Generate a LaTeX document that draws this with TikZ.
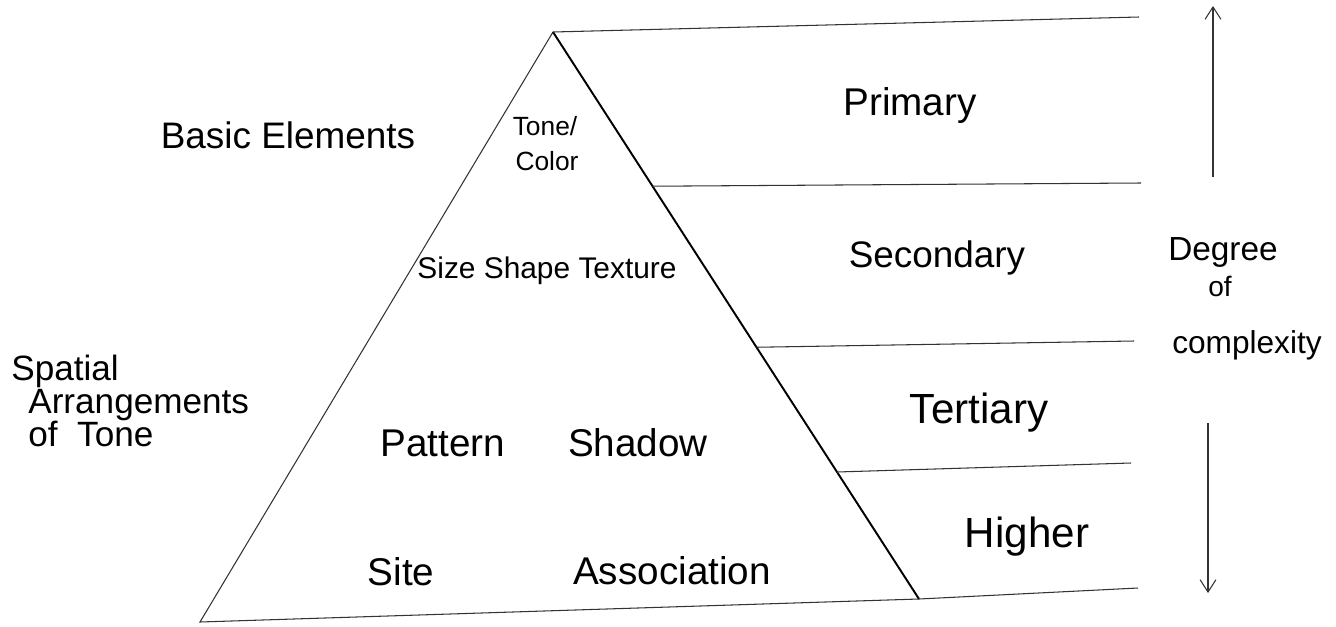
\documentclass[tikz,border=0pt]{standalone}
\usepackage{fontspec}
\setmainfont{Liberation Sans}
\usetikzlibrary{positioning, arrows.meta, calc}

\newcommand{\fs}[1]{\fontsize{#1}{#1}\selectfont}

\begin{document}
\begin{tikzpicture}[
  x=0.02cm, y=-0.02cm,
  edge/.style={line width=0.6pt, black!80},
  side/.style={line width=1.1pt},
  label/.style={anchor=base, inner sep=0pt},
  leftlabel/.style={anchor=base west, inner sep=0pt, font=\fs{20}}
]
  \useasboundingbox (0,0) rectangle (1336,626);

  % Pyramid corners
  \coordinate (apex) at (553,32);
  \coordinate (bl) at (200,622);
  \coordinate (br) at (919,599);

  % Points on the right side
  \coordinate (s1) at ($(apex)!0.272!(br)$);
  \coordinate (s2) at ($(apex)!0.556!(br)$);
  \coordinate (s3) at ($(apex)!0.776!(br)$);

  % Free ends of the level lines
  \coordinate (e0) at (1139,17);
  \coordinate (e1) at (1141,183);
  \coordinate (e2) at (1134,341);
  \coordinate (e3) at (1131,463);
  \coordinate (e4) at (1138,588);

  % Pyramid
  \draw[edge] (apex) -- (bl) -- (br);
  \draw[side] (apex) -- (br);

  % Level lines
  \draw[edge] (apex) -- (e0);
  \draw[edge] (s1) -- (e1);
  \draw[edge] (s2) -- (e2);
  \draw[edge] (s3) -- (e3);
  \draw[edge] (br) -- (e4);

  % Degree of complexity arrows
  \coordinate (upa) at (1213,177);
  \coordinate (upb) at (1213,6);
  \coordinate (dna) at (1208,423);
  \coordinate (dnb) at (1208,593);
  \draw[edge, -{Straight Barb[length=7pt, width=9pt]}] (upa) -- (upb);
  \draw[edge, -{Straight Barb[length=7pt, width=9pt]}] (dna) -- (dnb);
  \node[label, font=\fs{19}] (degree) at (1223,260) {Degree};
  \node[label, font=\fs{16}] (of) at (1220,296) {of};
  \node[label, font=\fs{18}] (complexity) at (1247,353) {complexity};

  % Labels left
  \node[label, font=\fs{21}] (basic) at (288,148) {Basic Elements};
  \node[leftlabel] (spatial) at (11,380) {Spatial};
  \node[leftlabel] (arrange) at (28,413) {Arrangements};
  \node[leftlabel] (oftone) at (28,446) {of \ Tone};

  % Labels inside the pyramid
  \node[label, font=\fs{15}] (tone) at (545,135) {Tone/};
  \node[label, font=\fs{15}] (color) at (547,170) {Color};
  \node[label, font=\fs{17}] (sst) at (547,278) {Size Shape Texture};
  \node[label, font=\fs{22}] (pattern) at (443,456) {Pattern};
  \node[label, font=\fs{22}] (shadow) at (638,456) {Shadow};
  \node[label, font=\fs{22}] (site) at (401,585) {Site};
  \node[label, font=\fs{22}] (assoc) at (672,584) {Association};

  % Levels
  \node[label, font=\fs{22}] (primary) at (910,115) {Primary};
  \node[label, font=\fs{21}] (secondary) at (937,267) {Secondary};
  \node[label, font=\fs{24}] (tertiary) at (979,423) {Tertiary};
  \node[label, font=\fs{24}] (higher) at (1027,547) {Higher};
\end{tikzpicture}
\end{document}
